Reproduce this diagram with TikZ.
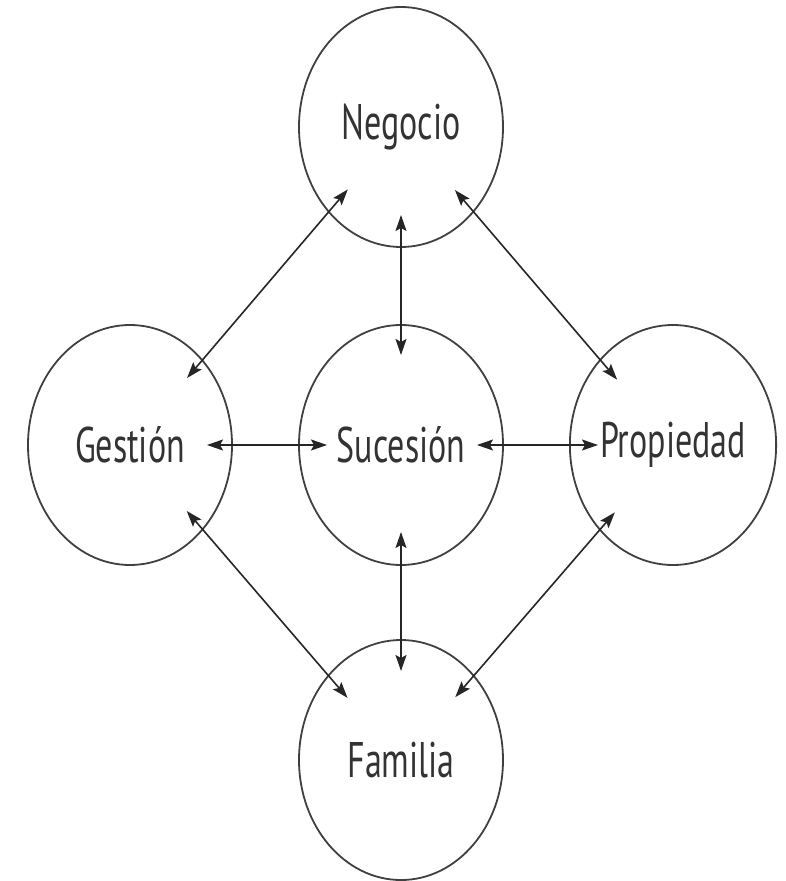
\documentclass[tikz,border=0pt]{standalone}
\usepackage{fontspec}
\setmainfont{PT Sans}[FakeStretch=0.68]
\usetikzlibrary{arrows.meta,shapes.geometric}

\begin{document}
\begin{tikzpicture}[
    x = 0.5pt, y = -0.5pt, % one unit per pixel of the reference
    > = {Stealth[length=8pt,width=5.5pt,inset=1.5pt]}, % arrow head style
    semithick, % line style
    draw = black!75
    ]
\tikzset{every circ/.style={
    ellipse,
    draw = black!75,
    line width = 0.9pt,
    minimum width = 102pt,
    minimum height = 120pt,
    inner sep = 0pt,
    text = black!80,
    font = \fontsize{25}{30}\selectfont
    },
    link/.style={<->, line width = 0.8pt, draw = black!85}
    }
    \useasboundingbox (0,0) rectangle (785,881);

    \node[every circ] (neg) at (401,127) {Negocio};
    \node[every circ] (ges) at (130,445) {Gestión};
    \node[every circ] (suc) at (401,445) {Sucesión};
    \node[every circ] (pro) at (673,445) {Propiedad};
    \node[every circ] (fam) at (401,760) {Familia};
     \draw [link, shorten <=44pt, shorten >=45pt] (neg.center) -- (suc.center);
     \draw [link, shorten <=43.5pt, shorten >=44.5pt] (suc.center) -- (fam.center);
     \draw [link, shorten <=38.5pt, shorten >=37pt] (ges.center) -- (suc.center);
     \draw [link, shorten <=38pt, shorten >=37.5pt] (suc.center) -- (pro.center);
     \draw [link, shorten <=41pt, shorten >=44pt] (neg.center) -- (ges.center);
     \draw [link, shorten <=41.5pt, shorten >=43pt] (neg.center) -- (pro.center);
     \draw [link, shorten <=43.5pt, shorten >=41pt] (ges.center) -- (fam.center);
     \draw [link, shorten <=44.5pt, shorten >=41.5pt] (pro.center) -- (fam.center);
\end{tikzpicture}
\end{document}
